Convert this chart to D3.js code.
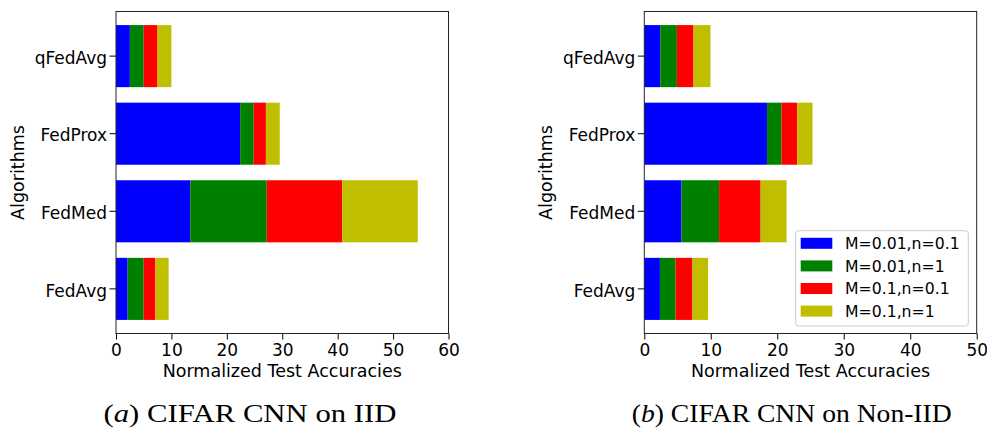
<!DOCTYPE html>
<html>
<head>
<meta charset="utf-8">
<script src="https://cdn.jsdelivr.net/npm/d3@7"></script>
<style>
  html, body { margin: 0; padding: 0; background: #fff; }
  svg { display: block; }
  .tick text { font-family: "DejaVu Sans", sans-serif; fill: #000; }
</style>
</head>
<body>
<svg id="chart" width="987" height="429"></svg>
<script>
// Algorithms, listed bottom to top
const algorithms = ["FedAvg", "FedMed", "FedProx", "qFedAvg"];
const settings = ["M=0.01,n=0.1", "M=0.01,n=1", "M=0.1,n=0.1", "M=0.1,n=1"];
const settingColors = ["#0000ff", "#008000", "#ff0000", "#bfbf00"];

// Normalized test accuracy per algorithm, one value per setting
const iidFedAvg   = [2.1, 2.9, 2.1, 2.4];
const iidFedMed   = [13.4, 13.8, 13.6, 13.65];
const iidFedProx  = [22.4, 2.45, 2.2, 2.5];
const iidQFedAvg  = [2.5, 2.5, 2.5, 2.5];

const nonIidFedAvg  = [2.35, 2.35, 2.55, 2.35];
const nonIidFedMed  = [5.6, 5.65, 6.25, 3.9];
const nonIidFedProx = [18.45, 2.2, 2.35, 2.3];
const nonIidQFedAvg = [2.4, 2.5, 2.5, 2.55];

const iidTicks = [0, 10, 20, 30, 40, 50, 60];
const nonIidTicks = [0, 10, 20, 30, 40, 50];

const panels = [
  {
    rows: [iidFedAvg, iidFedMed, iidFedProx, iidQFedAvg],
    xMax: 60, ticks: iidTicks,
    left: 116, right: 448.5,
    caption: ["a", " CIFAR CNN on IID"], captionX: 250, captionW: 293,
    legend: false
  },
  {
    rows: [nonIidFedAvg, nonIidFedMed, nonIidFedProx, nonIidQFedAvg],
    xMax: 50, ticks: nonIidTicks,
    left: 644.3, right: 976.7,
    caption: ["b", " CIFAR CNN on Non-IID"], captionX: 791.7, captionW: 320,
    legend: true
  }
];

const svg = d3.select("#chart");
const plotTop = 11.5, plotBottom = 333.5;
const fontSans = "DejaVu Sans, sans-serif";

panels.forEach(p => {
  const g = svg.append("g");

  const x = d3.scaleLinear().domain([0, p.xMax]).range([p.left, p.right]);
  const y = d3.scaleBand()
    .domain(algorithms.slice().reverse())
    .range([plotTop, plotBottom])
    .paddingInner(0.2)
    .paddingOuter(0.175);

  const table = algorithms.map((a, i) => {
    const row = { algorithm: a };
    settings.forEach((s, j) => { row[s] = p.rows[i][j]; });
    return row;
  });
  const stacked = d3.stack().keys(settings)(table);

  // stacked horizontal bars
  stacked.forEach((layer, k) => {
    g.append("g")
      .attr("fill", settingColors[k])
      .selectAll("rect")
      .data(layer)
      .join("rect")
      .attr("x", d => x(d[0]))
      .attr("width", d => x(d[1]) - x(d[0]))
      .attr("y", d => y(d.data.algorithm))
      .attr("height", y.bandwidth());
  });

  // x axis
  const xAxis = g.append("g")
    .attr("transform", `translate(0,${plotBottom})`)
    .call(d3.axisBottom(x).tickValues(p.ticks).tickFormat(d3.format("d")).tickSize(6).tickPadding(4));
  xAxis.select(".domain").remove();
  xAxis.selectAll(".tick line").attr("stroke", "#000").attr("stroke-width", 1);
  xAxis.selectAll(".tick text").attr("font-size", 17).attr("dy", "0.71em");

  // y axis
  const yAxis = g.append("g")
    .attr("transform", `translate(${p.left},0)`)
    .call(d3.axisLeft(y).tickSize(6.5).tickPadding(2.5));
  yAxis.select(".domain").remove();
  yAxis.selectAll(".tick line").attr("stroke", "#000").attr("stroke-width", 1);
  yAxis.selectAll(".tick text").attr("font-size", 17).attr("dy", "0.45em");

  // frame
  g.append("rect")
    .attr("x", p.left).attr("y", plotTop)
    .attr("width", p.right - p.left).attr("height", plotBottom - plotTop)
    .attr("fill", "none").attr("stroke", "#222").attr("stroke-width", 1);

  // axis titles
  g.append("text")
    .attr("x", (p.left + p.right) / 2).attr("y", 377)
    .attr("text-anchor", "middle")
    .attr("font-family", fontSans).attr("font-size", 17.5)
    .text("Normalized Test Accuracies");

  g.append("text")
    .attr("transform", `translate(${p.left - 92},${(plotTop + plotBottom) / 2}) rotate(-90)`)
    .attr("text-anchor", "middle")
    .attr("font-family", fontSans).attr("font-size", 17.5)
    .text("Algorithms");

  // caption
  const cap = g.append("text")
    .attr("x", p.captionX).attr("y", 422.3)
    .attr("text-anchor", "middle")
    .attr("font-family", "Liberation Serif, serif").attr("font-size", 24.5)
    .attr("textLength", p.captionW).attr("lengthAdjust", "spacingAndGlyphs");
  cap.append("tspan").text("(");
  cap.append("tspan").attr("font-style", "italic").text(p.caption[0]);
  cap.append("tspan").text(")" + p.caption[1]);

  if (p.legend) {
    const lx = 795.7, ly = 230.7, lw = 172.6, lh = 95.3, rowStep = 22.6;
    const lg = g.append("g");
    lg.append("rect")
      .attr("x", lx).attr("y", ly).attr("width", lw).attr("height", lh)
      .attr("rx", 3).attr("fill", "#fff").attr("fill-opacity", 0.8)
      .attr("stroke", "#cccccc").attr("stroke-width", 1);
    const items = lg.selectAll("g.item").data(settings).join("g")
      .attr("transform", (d, i) => `translate(0,${ly + 12.6 + i * rowStep})`);
    items.append("rect")
      .attr("x", lx + 5).attr("y", -5.5).attr("width", 31.6).attr("height", 11)
      .attr("fill", (d, i) => settingColors[i]);
    items.append("text")
      .attr("x", lx + 49.3).attr("y", 5.7)
      .attr("font-family", fontSans).attr("font-size", 15.7)
      .text(d => d);
  }
});
</script>
</body>
</html>
